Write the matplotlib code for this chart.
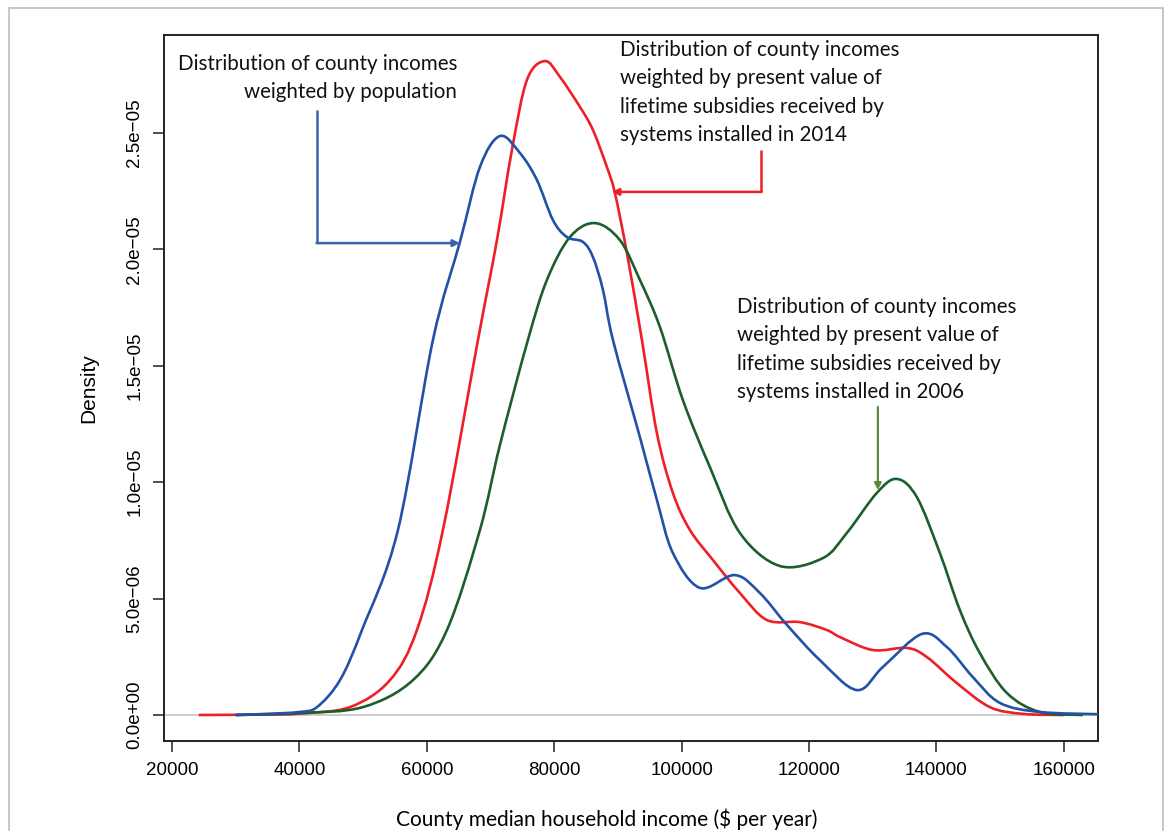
import numpy as np
import matplotlib.pyplot as plt
from matplotlib.patches import Rectangle, PathPatch
from matplotlib.path import Path

# redditi mediani delle contee ($) e densita' (in unita' di 1e-6)
pop_x = [30000, 35000, 40000, 42760, 46370, 49820, 55470, 60960, 65200, 68340,
         71480, 74620, 77290, 79800, 82000, 84510, 86080, 87650, 89220, 93450,
         96120, 98630, 102870, 108360, 112290, 116530, 121700, 127510, 131590,
         137710, 141640, 145720, 149960, 156230, 166000]
pop_d = [0.0, 0.05, 0.13, 0.34, 1.50, 3.65, 7.95, 16.11, 20.32, 23.54,
         24.87, 24.14, 22.98, 21.26, 20.53, 20.32, 19.67, 18.26, 16.11, 11.94,
         9.24, 6.96, 5.46, 6.01, 5.24, 3.87, 2.36, 1.07, 2.06,
         3.48, 2.92, 1.63, 0.52, 0.13, 0.03]

y2014_x = [24200, 35000, 40000, 47940, 54220, 58450, 62530, 68030, 71010, 73360,
           75720, 78540, 80900, 84040, 86080, 88270, 89530, 91410, 93770, 96120,
           98630, 101300, 104910, 109150, 113390, 118570, 122800, 124840, 130020,
           135360, 138500, 143210, 148390, 153560, 160000]
y2014_d = [0.0, 0.02, 0.06, 0.34, 1.50, 3.65, 7.95, 16.11, 20.40, 24.27,
           27.28, 28.09, 27.41, 26.12, 25.13, 23.54, 22.42, 19.85, 16.11, 12.11,
           9.54, 7.95, 6.66, 5.24, 4.08, 3.99, 3.65, 3.35, 2.79,
           2.88, 2.49, 1.37, 0.34, 0.05, 0.0]

y2006_x = [30000, 40000, 49980, 57830, 63160, 68340, 71480, 75870, 78860, 82470,
           86390, 90310, 93450, 96590, 100200, 104440, 109150, 115430, 122180, 125940,
           130650, 133790, 136930, 140540, 143680, 146820, 151050, 156230, 163000]
y2006_d = [0.0, 0.08, 0.34, 1.50, 3.65, 7.95, 11.60, 16.11, 18.69, 20.53,
           21.13, 20.40, 18.69, 16.67, 13.53, 10.65, 7.82, 6.40, 6.74, 7.82,
           9.54, 10.14, 9.36, 6.96, 4.51, 2.66, 0.95, 0.13, 0.0]

xticks = [20000, 40000, 60000, 80000, 100000, 120000, 140000, 160000]
yticks = [0, 5e-6, 1e-5, 1.5e-5, 2e-5, 2.5e-5]
ylabels = ['0.0e+00', '5.0e\u221206', '1.0e\u221205', '1.5e\u221205', '2.0e\u221205', '2.5e\u221205']

c_blue = '#2152a6'
c_red = '#ee1f26'
c_green = '#1c5e2c'


def curva(ax, xs, ds, color):
    # linea morbida (bezier cubiche) che passa per i punti letti
    p = np.column_stack([xs, np.array(ds) * 1e-6])
    verts = [p[0]]
    codes = [Path.MOVETO]
    for i in range(len(p) - 1):
        p0 = p[i - 1] if i > 0 else p[i]
        p3 = p[i + 2] if i + 2 < len(p) else p[i + 1]
        c1 = p[i] + (p[i + 1] - p0) / 6
        c2 = p[i + 1] - (p3 - p[i]) / 6
        verts += [c1, c2, p[i + 1]]
        codes += [Path.CURVE4] * 3
    ax.add_patch(PathPatch(Path(verts, codes), fill=False, edgecolor=color,
                           lw=1.9, zorder=3, capstyle='butt'))


fig = plt.figure(figsize=(11.68, 8.31), dpi=100)
ax = fig.add_axes([164/1168, 90/831, 934/1168, 706/831])

# cornice grigia esterna
fig.patches.append(Rectangle((9/1168, -0.05), 1154/1168, 1.05 - 8/831,
                             transform=fig.transFigure, fill=False,
                             edgecolor='#c8c8c8', lw=1.5))

ax.axhline(0, color='#c4c4c4', lw=1.2, zorder=1)
curva(ax, y2014_x, y2014_d, c_red)
curva(ax, y2006_x, y2006_d, c_green)
curva(ax, pop_x, pop_d, c_blue)

ax.set_xlim(18740, 165370)
ax.set_ylim(-1.117e-6, 2.921e-5)

ax.set_xticks(xticks)
ax.set_xticklabels([str(v) for v in xticks], family='Liberation Sans', fontsize=13.5)
ax.set_yticks(yticks)
ax.set_yticklabels(ylabels, family='Liberation Sans', fontsize=13.5,
                   rotation=90, va='center')
ax.tick_params(length=8, width=1.2, color='#333333', pad=7)
for s in ax.spines.values():
    s.set_linewidth(1.4)
    s.set_color('#222222')

ax.set_ylabel('Density', family='Liberation Sans', fontsize=15, labelpad=20)
fig.text(607/1168, 1 - 819/831, 'County median household income ($ per year)',
         family='Lato', fontsize=15, ha='center', va='center')

# annotazioni
tfont = dict(family='Lato', fontsize=14.8, linespacing=1.54, color='#111111')
ax.text(64730, 27.36e-6, 'Distribution of county incomes\nweighted by population',
        ha='right', va='center', multialignment='right', **tfont)
ax.text(90310, 26.74e-6, 'Distribution of county incomes\nweighted by present value of\n'
        'lifetime subsidies received by\nsystems installed in 2014',
        ha='left', va='center', **tfont)
ax.text(108680, 15.70e-6, 'Distribution of county incomes\nweighted by present value of\n'
        'lifetime subsidies received by\nsystems installed in 2006',
        ha='left', va='center', **tfont)

# frecce
ax.plot([42760, 42760], [25.99e-6, 20.27e-6], color='#3a62ad', lw=1.8, solid_capstyle='butt')
ax.annotate('', xy=(65200, 20.27e-6), xytext=(42680, 20.27e-6),
            arrowprops=dict(arrowstyle='-|>', color='#3a62ad', lw=1.8,
                            mutation_scale=10, shrinkA=0, shrinkB=0))
ax.plot([112440, 112440], [24.27e-6, 22.47e-6], color=c_red, lw=1.8, solid_capstyle='butt')
ax.annotate('', xy=(89060, 22.47e-6), xytext=(112520, 22.47e-6),
            arrowprops=dict(arrowstyle='-|>', color=c_red, lw=1.8,
                            mutation_scale=10, shrinkA=0, shrinkB=0))
ax.annotate('', xy=(130810, 9.66e-6), xytext=(130810, 13.23e-6),
            arrowprops=dict(arrowstyle='-|>', color='#5b8a3c', lw=1.6,
                            mutation_scale=10, shrinkA=0, shrinkB=0))

fig.savefig('out.png', dpi=100)
